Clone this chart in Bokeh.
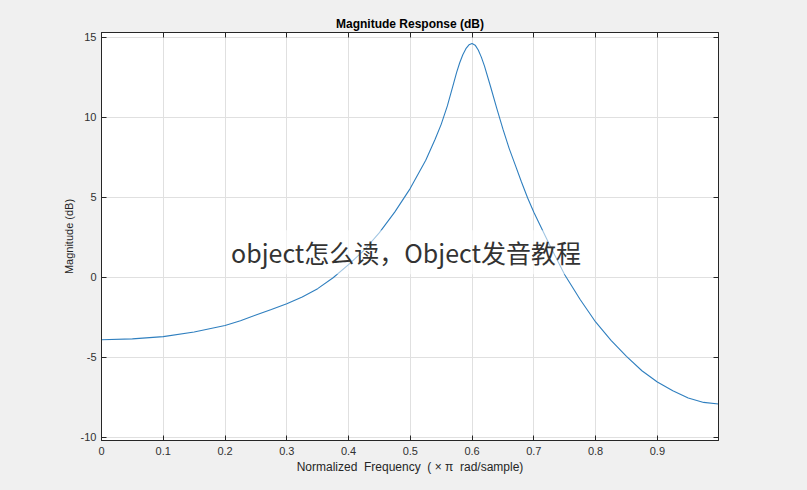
from bokeh.plotting import figure
from bokeh.models import FixedTicker, LinearAxis, Range1d, Label
from bokeh.embed import file_html
from bokeh.resources import INLINE

# ---- data ----
freq = [0.0, 0.05, 0.1, 0.15, 0.2, 0.225, 0.25, 0.275, 0.3, 0.325, 0.35,
        0.375, 0.4, 0.425, 0.45, 0.475, 0.5, 0.525, 0.54, 0.55, 0.56, 0.57,
        0.575, 0.58, 0.585, 0.59, 0.595, 0.6, 0.605, 0.61, 0.615, 0.62, 0.63,
        0.64, 0.65, 0.66, 0.67, 0.68, 0.69, 0.7, 0.725, 0.75, 0.775, 0.8,
        0.825, 0.85, 0.875, 0.9, 0.925, 0.95, 0.975, 0.999]
mag_db = [-3.91, -3.86, -3.72, -3.43, -3.02, -2.72, -2.37, -2.02, -1.66, -1.24,
          -0.72, -0.04, 0.78, 1.68, 2.78, 4.08, 5.55, 7.30, 8.60, 9.55, 10.70,
          12.10, 12.80, 13.40, 13.90, 14.28, 14.52, 14.60, 14.50, 14.20, 13.75,
          13.20, 11.90, 10.55, 9.25, 8.05, 7.00, 5.95, 4.95, 4.05, 2.05, 0.15,
          -1.40, -2.80, -3.95, -4.95, -5.85, -6.55, -7.10, -7.55, -7.83, -7.93]
x_ticks = [0.0, 0.1, 0.2, 0.3, 0.4, 0.5, 0.6, 0.7, 0.8, 0.9]
x_tick_labels = ["0", "0.1", "0.2", "0.3", "0.4", "0.5", "0.6", "0.7", "0.8", "0.9"]
y_ticks = [-10, -5, 0, 5, 10, 15]
y_tick_labels = ["-10", "-5", "0", "5", "10", "15"]
title_text = "Magnitude Response (dB)"
x_label = "Normalized\u00a0 Frequency\u00a0 (\u00a0\u00d7\u00a0\u03c0\u00a0 rad/sample)"
y_label = "Magnitude (dB)"
overlay_text = "object怎么读，Object发音教程"

FONT = "Liberation Sans"
AX = "#262626"
BG = "#f0f0f0"

p = figure(width=807, height=490, output_backend="svg", toolbar_location=None,
           x_range=Range1d(0, 0.999), y_range=Range1d(-10.21, 15.29),
           min_border_left=101, min_border_right=89, min_border_top=32,
           min_border_bottom=50, x_axis_location=None, y_axis_location=None)
p.background_fill_color = "white"
p.border_fill_color = BG
p.outline_line_color = AX
p.outline_line_width = 1

p.title.text = title_text
p.title.align = "center"
p.title.text_font = FONT
p.title.text_font_size = "12px"
p.title.text_font_style = "bold"
p.title.text_color = "#000000"
p.title.standoff = 4


def style_axis(ax, ticks, labels, show_labels):
    ax.ticker = FixedTicker(ticks=ticks)
    ax.major_label_overrides = {t: (l if show_labels else "") for t, l in zip(ticks, labels)}
    ax.axis_line_color = AX
    ax.major_tick_line_color = AX
    ax.major_tick_in = 5
    ax.major_tick_out = 0
    ax.minor_tick_line_color = None
    ax.major_label_text_font = FONT
    ax.major_label_text_font_size = "11px"
    ax.major_label_text_color = "#303030"
    ax.axis_label_text_font = FONT
    ax.axis_label_text_font_style = "normal"
    ax.axis_label_text_color = "#262626"


xb = LinearAxis(axis_label=x_label)
style_axis(xb, x_ticks, x_tick_labels, True)
xb.axis_label_text_font_size = "12px"
xb.major_label_standoff = 6
xb.axis_label_standoff = 2
p.add_layout(xb, "below")

xt = LinearAxis()
style_axis(xt, x_ticks, x_tick_labels, False)
xt.major_label_text_font_size = "0px"
p.add_layout(xt, "above")

yl = LinearAxis(axis_label=y_label)
style_axis(yl, y_ticks, y_tick_labels, True)
yl.axis_label_text_font_size = "11px"
yl.major_label_standoff = 5
yl.axis_label_standoff = 3
p.add_layout(yl, "left")

yr = LinearAxis()
style_axis(yr, y_ticks, y_tick_labels, False)
yr.major_label_text_font_size = "0px"
p.add_layout(yr, "right")

p.xgrid.ticker = FixedTicker(ticks=x_ticks)
p.ygrid.ticker = FixedTicker(ticks=y_ticks)
p.xgrid.grid_line_color = "#e0e0e0"
p.ygrid.grid_line_color = "#e0e0e0"

p.line(freq, mag_db, line_color="#2f7fbf", line_width=1.1)

lab = Label(x=0.493, y=1.55, text=overlay_text, text_align="center",
            text_baseline="middle", text_font="Noto Sans CJK SC",
            text_font_size="25px", text_color="#333333",
            background_fill_color="white", background_fill_alpha=0.55,
            padding=4)
p.add_layout(lab)

html = file_html(p, INLINE)
html = html.replace("<head>", "<head><style>body{background:%s;}</style>" % BG, 1)
open("out.html", "w").write(html)
